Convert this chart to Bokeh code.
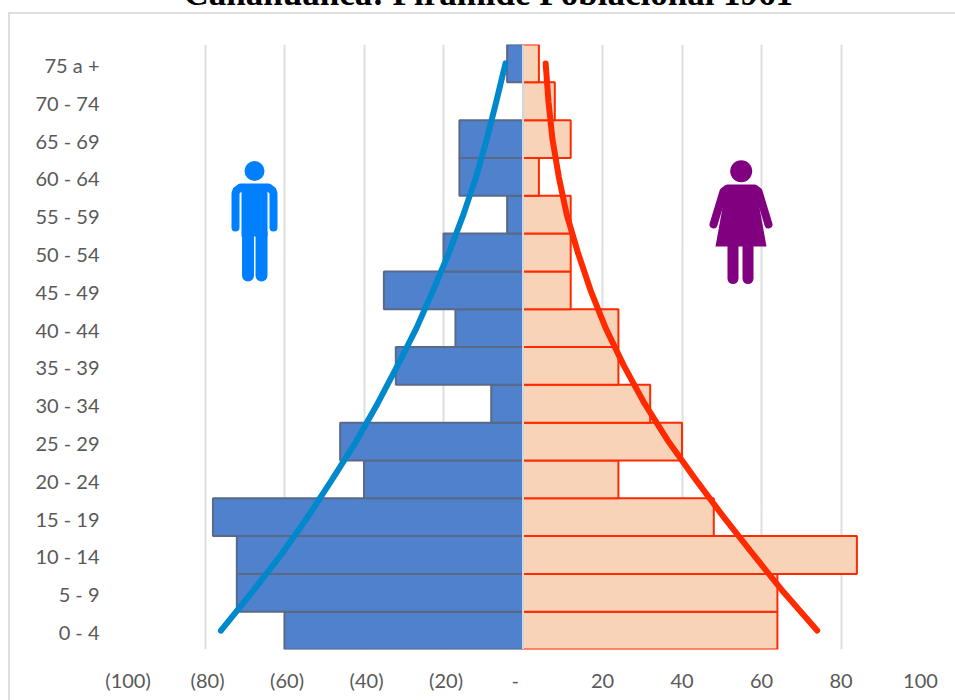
from bokeh.plotting import figure
from bokeh.models import FixedTicker, Range1d, Span, Title
from bokeh.embed import file_html
from bokeh.resources import INLINE

title = "Cañahuanca: Pirámide Poblacional 1961"
groups = ["0 - 4", "5 - 9", "10 - 14", "15 - 19", "20 - 24", "25 - 29", "30 - 34", "35 - 39",
          "40 - 44", "45 - 49", "50 - 54", "55 - 59", "60 - 64", "65 - 69", "70 - 74", "75 a +"]
male = [-60, -72, -72, -78, -40, -46, -8, -32, -17, -35, -20, -4, -16, -16, 0, -4]
female = [64, 64, 84, 48, 24, 40, 32, 24, 24, 12, 12, 12, 4, 12, 8, 4]
male_trend = [-76, -68.3, -60.9, -54.2, -48, -42, -36.6, -31.6, -26.8, -22.6, -18.6, -15, -11.8, -9.1, -6.7, -4.4]
female_trend = [74, 65.7, 58, 50.5, 43.4, 36.6, 30.6, 25.4, 20.8, 17, 13.8, 11.0, 9.0, 7.4, 6.4, 5.7]
x_ticks = [-100, -80, -60, -40, -20, 0, 20, 40, 60, 80, 100]
x_tick_labels = ["\u00a0(100)", "\u00a0(80)", "\u00a0(60)", "\u00a0(40)", "\u00a0(20)", "-\u00a0\u00a0\u00a0",
                 "20", "40", "60", "80", "100"]

GRAY = "#595959"
GRID = "#dedede"
MAN = "#0080ff"
WOMAN = "#800080"

ypos = list(range(len(groups)))
label_pos = [round(i - 0.04, 2) for i in ypos]

TOP_CUT = 64  # the reference's title runs off the top of the page
edge = f"linear-gradient({GRID},{GRID})"
p = figure(width=955, height=700 + TOP_CUT, output_backend="svg", toolbar_location=None,
           x_range=Range1d(-100, 100), y_range=Range1d(-0.5, len(groups) - 0.5),
           min_border_left=125, min_border_right=35, min_border_top=44 + TOP_CUT, min_border_bottom=51,
           margin=(-TOP_CUT, 0, 0, 0),
           styles={"background": f"{edge} 8px {12 + TOP_CUT}px / 947px 2px no-repeat, "
                                 f"{edge} 8px {12 + TOP_CUT}px / 2px 700px no-repeat"})
p.border_fill_color = None
p.outline_line_color = None
p.background_fill_color = "white"

p.title = Title(text=title, align="left", offset=58, standoff=63, text_font="Liberation Serif",
                text_font_style="bold", text_font_size="35px", text_color="black")

# pixel-like helper scale for the two pictograms
p.extra_x_ranges = {"px": Range1d(125, 920)}
p.extra_y_ranges = {"px": Range1d(649, 44)}

p.xgrid.ticker = FixedTicker(ticks=x_ticks)
p.xgrid.grid_line_color = GRID
p.xgrid.grid_line_width = 2
p.ygrid.visible = False

p.xaxis.ticker = FixedTicker(ticks=x_ticks)
p.xaxis.major_label_overrides = dict(zip(x_ticks, x_tick_labels))
p.xaxis.axis_line_color = None
p.xaxis.major_tick_line_color = None
p.xaxis.minor_tick_line_color = None
p.xaxis.major_label_standoff = 12
p.yaxis.ticker = FixedTicker(ticks=label_pos)
p.yaxis.major_label_overrides = dict(zip(label_pos, groups))
p.yaxis.axis_line_color = None
p.yaxis.major_tick_line_color = None
p.yaxis.minor_tick_line_color = None
p.yaxis.major_label_standoff = 20
for ax in (p.xaxis, p.yaxis):
    ax.major_label_text_font = "Lato"
    ax.major_label_text_font_size = "20px"
    ax.major_label_text_color = GRAY

p.hbar(y=ypos, left=male, right=0, height=1, fill_color="#4f81cd", line_color="#5a6a86", line_width=2)
p.hbar(y=ypos, left=0, right=female, height=1, fill_color="#f8d3b8", line_color="#ff2a00", line_width=2)
p.add_layout(Span(location=0, dimension="height", line_color="#cfd6de", line_width=2, level="overlay"))

p.line(male_trend, ypos, line_color="#0088cc", line_width=6, line_cap="round", line_join="round")
p.line(female_trend, ypos, line_color="#ff2a00", line_width=6, line_cap="round", line_join="round")

# man pictogram
kw = dict(x_range_name="px", y_range_name="px")
p.ellipse([254], [170.5], width=20, height=20, fill_color=MAN, line_color=None, **kw)
p.patch([241, 267, 267, 241], [184, 184, 236, 236], fill_color=MAN, line_color=None, **kw)
p.line([235, 235, 236, 240, 268, 272, 273, 273], [227, 193, 190, 187, 187, 190, 193, 227],
       line_color=MAN, line_width=8, line_cap="round", line_join="round", **kw)
for lx in (247.5, 261):
    p.line([lx, lx], [232, 275], line_color=MAN, line_width=12, line_cap="round", **kw)

# woman pictogram
p.ellipse([740.7], [170.7], width=22, height=22, fill_color=WOMAN, line_color=None, **kw)
p.patch([726, 755, 766, 715], [185, 185, 246, 246], fill_color=WOMAN, line_color=None, **kw)
p.line([713, 723, 727, 754, 758, 768], [224, 191, 188, 188, 191, 224],
       line_color=WOMAN, line_width=8, line_cap="round", line_join="round", **kw)
for lx in (732.5, 747.5):
    p.line([lx, lx], [244, 278], line_color=WOMAN, line_width=11, line_cap="round", **kw)

open("out.html", "w").write(file_html(p, INLINE))
